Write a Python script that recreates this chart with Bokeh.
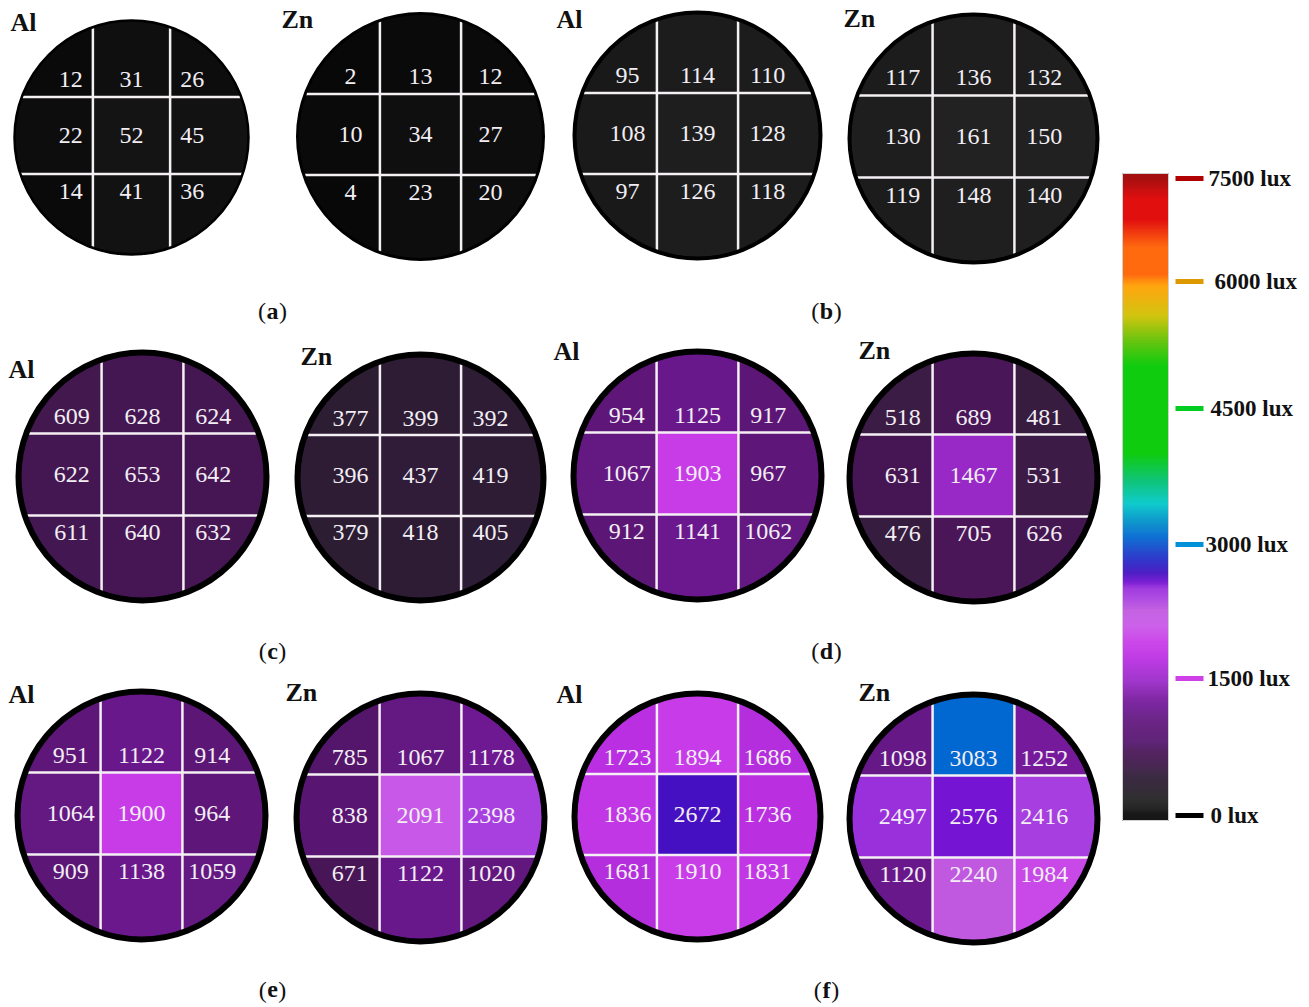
import numpy as np
from bokeh.plotting import figure
from bokeh.models import Range1d, LinearColorMapper, ColumnDataSource
from bokeh.core.properties import value
from bokeh.embed import file_html
from bokeh.resources import INLINE

# ------------------------------------------------------------------ data
panel_letters = ["a", "b", "c", "d", "e", "f"]
metals = ["Al", "Zn"]

# illuminance (lux) of each 3x3 cell, row by row (top-left to bottom-right)
a_al = [12, 31, 26, 22, 52, 45, 14, 41, 36]
a_zn = [2, 13, 12, 10, 34, 27, 4, 23, 20]
b_al = [95, 114, 110, 108, 139, 128, 97, 126, 118]
b_zn = [117, 136, 132, 130, 161, 150, 119, 148, 140]
c_al = [609, 628, 624, 622, 653, 642, 611, 640, 632]
c_zn = [377, 399, 392, 396, 437, 419, 379, 418, 405]
d_al = [954, 1125, 917, 1067, 1903, 967, 912, 1141, 1062]
d_zn = [518, 689, 481, 631, 1467, 531, 476, 705, 626]
e_al = [951, 1122, 914, 1064, 1900, 964, 909, 1138, 1059]
e_zn = [785, 1067, 1178, 838, 2091, 2398, 671, 1122, 1020]
f_al = [1723, 1894, 1686, 1836, 2672, 1736, 1681, 1910, 1831]
f_zn = [1098, 3083, 1252, 2497, 2576, 2416, 1120, 2240, 1984]

scale_ticks = [0, 1500, 3000, 4500, 6000, 7500]
scale_labels = ["0 lux", "1500 lux", "3000 lux", "4500 lux", "6000 lux", "7500 lux"]

# colour scale (value -> colour stops)
stop_vals = [0, 50, 160, 300, 420, 500, 640, 700, 800, 950, 1070, 1150, 1250, 1470,
             1700, 1900, 2090, 2250, 2400, 2500, 2580, 2680, 2850, 3080, 3250, 3450,
             3700, 4000, 5000, 5300, 5600, 5940, 6100, 6500, 6900, 7200, 7500]
stop_cols = ["#080808", "#141414", "#222222", "#2a1e2e", "#2e1c36", "#3a1c44", "#461654",
             "#4a1658", "#561670", "#5e1678", "#641882", "#6c1890", "#761a9c", "#9a2ac8",
             "#b82ee0", "#c83ce8", "#c858e8", "#c058e0", "#a840e0", "#9a30dc", "#7010d0",
             "#4010c0", "#2030c8", "#0068d0", "#0090c8", "#00c8c8", "#00c070", "#00c800",
             "#00c800", "#60c000", "#d0c000", "#ffa000", "#ff6000", "#ff6000", "#e00000",
             "#e00000", "#a00000"]

# ------------------------------------------------------------------ layout
panel_values = [a_al, a_zn, b_al, b_zn, c_al, c_zn, d_al, d_zn, e_al, e_zn, f_al, f_zn]
cx = [131, 420, 697, 973, 142, 420, 697, 973, 141, 420, 697, 973]
cy = [137, 136, 135, 138, 476, 477, 475, 477, 815, 817, 816, 818]
rad = [117, 123, 123, 124, 124, 123, 124, 124, 124, 124, 123, 124]
border_w = [2.5, 3, 4, 4, 6, 6, 6, 6, 6, 6, 6, 6]
metal_lx = [10, 281, 556, 843, 8, 300, 553, 858, 8, 285, 556, 858]
metal_ly = [22, 19, 19, 18, 369, 356, 351, 350, 694, 692, 694, 692]
letter_x = [272, 826, 272, 826, 272, 826]
letter_y = [310, 310, 650, 650, 989, 989]
letter_halfw = {"a": 6, "b": 6.7, "c": 5.3, "d": 6.7, "e": 5.3, "f": 4.2}

SERIF = "Liberation Serif"

W, H = 1305, 1005
p = figure(width=W, height=H, x_range=Range1d(0, W), y_range=Range1d(H, 0),
           output_backend="svg", toolbar_location=None, min_border=0)
p.axis.visible = False
p.grid.visible = False
p.outline_line_color = None
p.background_fill_color = "white"
p.border_fill_color = "white"

# colour mapper
def hex2rgb(h):
    return [int(h[i:i + 2], 16) for i in (1, 3, 5)]

rgb = np.array([hex2rgb(c) for c in stop_cols], float)
pal_vals = np.linspace(0, 7500, 751)
palette = []
for v in pal_vals:
    r, g, b = (np.interp(v, stop_vals, rgb[:, k]) for k in range(3))
    palette.append("#%02x%02x%02x" % (int(round(r)), int(round(g)), int(round(b))))
mapper = LinearColorMapper(palette=palette, low=0, high=7500)


def circle_poly(x0, y0, r, n=240):
    t = np.linspace(0, 2 * np.pi, n, endpoint=False)
    return list(zip(x0 + r * np.cos(t), y0 + r * np.sin(t)))


def clip(poly, axis, bound, keep_greater):
    out = []
    n = len(poly)
    for i in range(n):
        P = poly[i]
        Q = poly[(i + 1) % n]
        pin = P[axis] >= bound if keep_greater else P[axis] <= bound
        qin = Q[axis] >= bound if keep_greater else Q[axis] <= bound
        if pin:
            out.append(P)
        if pin != qin:
            t = (bound - P[axis]) / (Q[axis] - P[axis])
            out.append((P[0] + t * (Q[0] - P[0]), P[1] + t * (Q[1] - P[1])))
    return out


cell_xs, cell_ys, cell_vals = [], [], []
seg = dict(x0=[], y0=[], x1=[], y1=[])
txt = dict(x=[], y=[], t=[])
for k, vals in enumerate(panel_values):
    x0, y0, R = cx[k], cy[k], rad[k]
    g = 0.33 * R           # half cell size
    s = -2.0               # grid vertical shift
    xe = [x0 - 2 * R, x0 - g, x0 + g, x0 + 2 * R]
    ye = [y0 + s - 2 * R, y0 + s - g, y0 + s + g, y0 + s + 2 * R]
    circ = circle_poly(x0, y0, R)
    tdx = 0.52 * R if k == 0 else 0.57 * R
    tdy = 0.475 * R if k < 4 else 0.465 * R
    for i in range(3):
        for j in range(3):
            poly = clip(circ, 0, xe[j], True)
            poly = clip(poly, 0, xe[j + 1], False)
            poly = clip(poly, 1, ye[i], True)
            poly = clip(poly, 1, ye[i + 1], False)
            cell_xs.append([q[0] for q in poly])
            cell_ys.append([q[1] for q in poly])
            cell_vals.append(vals[i * 3 + j])
            txt["x"].append(x0 + (j - 1) * tdx)
            txt["y"].append(y0 - 2 + (i - 1) * tdy)
            txt["t"].append(str(vals[i * 3 + j]))
    for sgn in (-1, 1):
        h = np.sqrt(R ** 2 - g ** 2)
        seg["x0"].append(x0 + sgn * g); seg["x1"].append(x0 + sgn * g)
        seg["y0"].append(y0 - h); seg["y1"].append(y0 + h)
        yy = s + sgn * g
        w = np.sqrt(R ** 2 - yy ** 2)
        seg["x0"].append(x0 - w); seg["x1"].append(x0 + w)
        seg["y0"].append(y0 + yy); seg["y1"].append(y0 + yy)

cells = ColumnDataSource(dict(xs=cell_xs, ys=cell_ys, v=cell_vals))
p.patches("xs", "ys", source=cells,
          fill_color={"field": "v", "transform": mapper},
          line_color={"field": "v", "transform": mapper}, line_width=0.5)
p.segment("x0", "y0", "x1", "y1", source=ColumnDataSource(seg),
          line_color="#f4f0f4", line_width=2.5)
p.circle(x=cx, y=cy, radius=rad, fill_color=None, line_color="black",
         line_width=border_w)
p.text("x", "y", text="t", source=ColumnDataSource(txt),
       text_font=value(SERIF), text_font_size="24px", text_color="#f2eef4",
       text_align="center", text_baseline="middle")

# metal labels
metal_txt = [metals[k % 2] for k in range(12)]
p.text(x=metal_lx, y=metal_ly, text=metal_txt, text_font=value(SERIF),
       text_font_size="26px", text_font_style="bold", text_color="#111111",
       text_align="left", text_baseline="middle")

# panel letters "(a)" etc.
lx_l, lx_r = [], []
for k, L in enumerate(panel_letters):
    lx_l.append(letter_x[k] - letter_halfw[L] - 0.5)
    lx_r.append(letter_x[k] + letter_halfw[L] + 0.5)
p.text(x=letter_x, y=letter_y, text=panel_letters, text_font=value(SERIF),
       text_font_size="24px", text_font_style="bold", text_color="#111111",
       text_align="center", text_baseline="middle")
p.text(x=lx_l, y=letter_y, text=["("] * 6, text_font=value(SERIF),
       text_font_size="24px", text_color="#111111",
       text_align="right", text_baseline="middle")
p.text(x=lx_r, y=letter_y, text=[")"] * 6, text_font=value(SERIF),
       text_font_size="24px", text_color="#111111",
       text_align="left", text_baseline="middle")

# colour bar
tick_y = [815, 678, 544, 408, 281, 178]
bar_top, bar_bot = 173, 820
edges = np.arange(bar_top, bar_bot + 1, 1.0)
mids = (edges[:-1] + edges[1:]) / 2
strip_vals = np.interp(mids, tick_y[::-1], scale_ticks[::-1])
bar = ColumnDataSource(dict(top=edges[:-1], bottom=edges[1:], v=strip_vals))
p.quad(left=1122, right=1168, top="top", bottom="bottom", source=bar,
       fill_color={"field": "v", "transform": mapper},
       line_color={"field": "v", "transform": mapper}, line_width=0.5)
p.quad(left=1122, right=1168, top=bar_top, bottom=bar_bot, fill_color=None,
       line_color="#d0d0d0", line_width=1)

tick_colors = ["#000000", "#d040e8", "#0090d8", "#00cc22", "#dd9a00", "#b00000"]
p.segment(x0=[1175] * 6, y0=tick_y, x1=[1203] * 6, y1=tick_y,
          line_color=tick_colors, line_width=5)
p.text(x=[1210, 1207, 1205, 1210, 1214, 1208], y=tick_y, text=scale_labels,
       text_font=value(SERIF), text_font_size="23px", text_font_style="bold",
       text_color="#111111", text_align="left", text_baseline="middle")

open("out.html", "w").write(file_html(p, INLINE))
